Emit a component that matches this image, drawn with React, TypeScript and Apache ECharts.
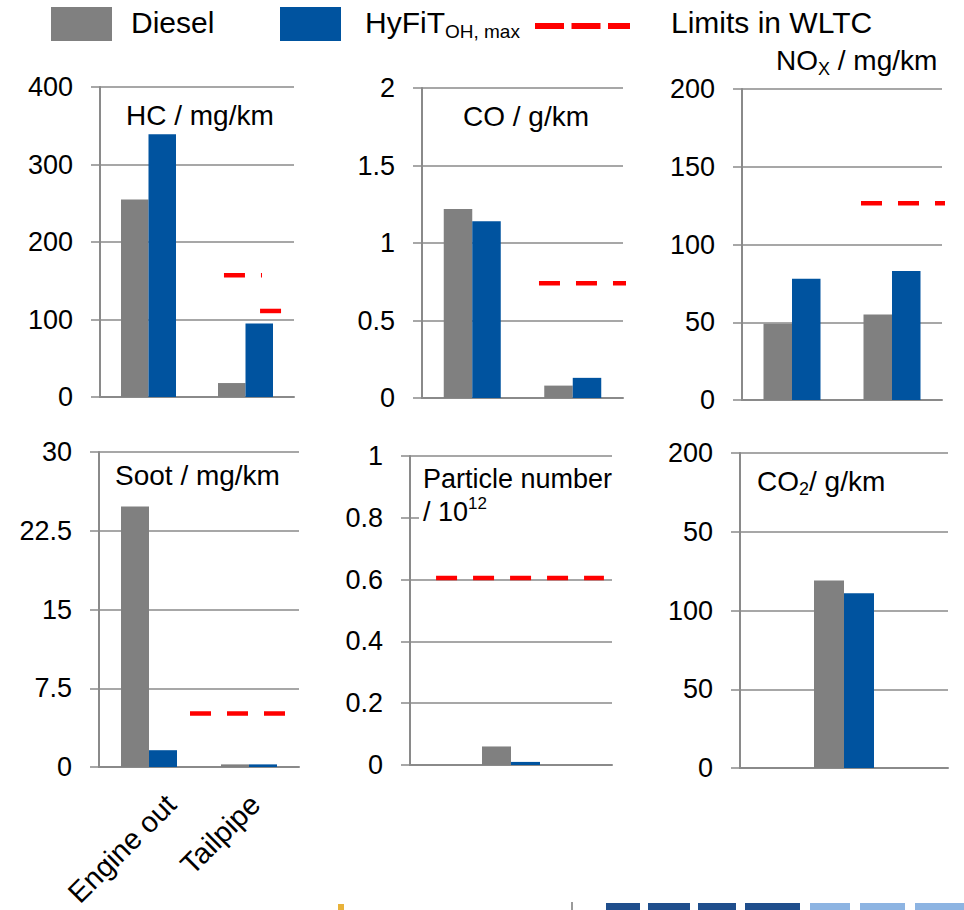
import React, { useEffect, useRef } from 'react';
import * as echarts from 'echarts';

// ---------- data ----------
const categories = ['Engine out', 'Tailpipe'];
const singleCategory = ['Total'];

const hcDiesel = [255, 18];
const hcHyfit = [339, 95];
const coDiesel = [1.22, 0.08];
const coHyfit = [1.14, 0.13];
const noxDiesel = [49, 55];
const noxHyfit = [78, 83];
const sootDiesel = [24.8, 0.25];
const sootHyfit = [1.6, 0.25];
const pnDiesel = [0.06];
const pnHyfit = [0.01];
const co2Diesel = [119];
const co2Hyfit = [111];

// WLTC limit values per panel
const hcLimits = [157, 111];
const coLimits = [0.74];
const noxLimits = [126.6];
const sootLimits = [5.1];
const pnLimits = [0.605];
const co2Limits: number[] = [];

// horizontal extent of each limit segment (fraction of panel width)
const hcLimitSpans = [[0.639, 0.835], [0.825, 1.015]];
const coLimitSpans = [[0.582, 1.055]];
const noxLimitSpans = [[0.595, 1.065]];
const sootLimitSpans = [[0.455, 0.93]];
const pnLimitSpans = [[0.129, 0.96]];
const co2LimitSpans: number[][] = [];

// tick values and labels
const hcTicks = [0, 100, 200, 300, 400];
const hcTickLabels = ['0', '100', '200', '300', '400'];
const coTicks = [0, 0.5, 1, 1.5, 2];
const coTickLabels = ['0', '0.5', '1', '1.5', '2'];
const noxTicks = [0, 50, 100, 150, 200];
const noxTickLabels = ['0', '50', '100', '150', '200'];
const sootTicks = [0, 7.5, 15, 22.5, 30];
const sootTickLabels = ['0', '7.5', '15', '22.5', '30'];
const pnTicks = [0, 0.2, 0.4, 0.6, 0.8, 1];
const pnTickLabels = ['0', '0.2', '0.4', '0.6', '0.8', '1'];
const co2Ticks = [0, 50, 100, 150, 200];
const co2TickLabels = ['0', '50', '100', '50', '200'];

const seriesNames = ['Diesel', 'HyFiT OH, max', 'Limits in WLTC'];

// ---------- styles ----------
const FONT = '"Liberation Sans", Arial, Helvetica, sans-serif';
const GRAY = '#808080';
const BLUE = '#00539F';
const RED = '#FF0000';
const AXIS = '#8a8a8a';

const panels = [
  { cats: categories, diesel: hcDiesel, hyfit: hcHyfit, ticks: hcTicks, labels: hcTickLabels, limits: hcLimits, spans: hcLimitSpans, grid: { left: 100, top: 87, width: 194, height: 310 }, barWidth: 27.5 },
  { cats: categories, diesel: coDiesel, hyfit: coHyfit, ticks: coTicks, labels: coTickLabels, limits: coLimits, spans: coLimitSpans, grid: { left: 422, top: 88, width: 201, height: 310 }, barWidth: 28.5 },
  { cats: categories, diesel: noxDiesel, hyfit: noxHyfit, ticks: noxTicks, labels: noxTickLabels, limits: noxLimits, spans: noxLimitSpans, grid: { left: 742, top: 89, width: 200, height: 311 }, barWidth: 28.5 },
  { cats: categories, diesel: sootDiesel, hyfit: sootHyfit, ticks: sootTicks, labels: sootTickLabels, limits: sootLimits, spans: sootLimitSpans, grid: { left: 99, top: 452, width: 200, height: 315 }, barWidth: 28 },
  { cats: singleCategory, diesel: pnDiesel, hyfit: pnHyfit, ticks: pnTicks, labels: pnTickLabels, limits: pnLimits, spans: pnLimitSpans, grid: { left: 410, top: 456, width: 202, height: 309 }, barWidth: 29 },
  { cats: singleCategory, diesel: co2Diesel, hyfit: co2Hyfit, ticks: co2Ticks, labels: co2TickLabels, limits: co2Limits, spans: co2LimitSpans, grid: { left: 740, top: 453, width: 208, height: 315 }, barWidth: 30 },
];

function buildOption() {
  const grid: any[] = panels.map((p) => ({ ...p.grid, containLabel: false }));
  // extra grid carrying only the rotated category labels under the soot panel
  grid.push({ left: 129, top: 452, width: 168, height: 315, containLabel: false });

  const xAxis: any[] = [];
  const yAxis: any[] = [];
  const series: any[] = [];

  panels.forEach((p, i) => {
    xAxis.push({
      type: 'category', gridIndex: i, data: p.cats,
      axisLine: { show: true, lineStyle: { color: AXIS, width: 2 } },
      axisTick: { show: false }, axisLabel: { show: false }, splitLine: { show: false },
    });
    xAxis.push({ type: 'value', gridIndex: i, min: 0, max: 1, show: false });
    const min = p.ticks[0];
    const max = p.ticks[p.ticks.length - 1];
    const interval = p.ticks[1] - p.ticks[0];
    yAxis.push({
      type: 'value', gridIndex: i, min, max, interval,
      axisLine: { show: true, lineStyle: { color: AXIS, width: 2 } },
      axisTick: { show: true, length: 9, lineStyle: { color: AXIS, width: 1.5 } },
      splitLine: { show: true, lineStyle: { color: AXIS, width: 1.5 } },
      axisLabel: {
        margin: 27, fontSize: 27, color: '#000', fontFamily: FONT,
        formatter: (v: number) => p.labels[Math.round((v - min) / interval)] ?? '',
      },
    });
    series.push({
      type: 'bar', name: seriesNames[0], xAxisIndex: 2 * i, yAxisIndex: i, data: p.diesel,
      barWidth: p.barWidth, barGap: '0%', itemStyle: { color: GRAY }, silent: true,
    });
    series.push({
      type: 'bar', name: seriesNames[1], xAxisIndex: 2 * i, yAxisIndex: i, data: p.hyfit,
      barWidth: p.barWidth, barGap: '0%', itemStyle: { color: BLUE }, silent: true,
    });
    p.limits.forEach((lv, k) => {
      series.push({
        type: 'line', name: seriesNames[2], xAxisIndex: 2 * i + 1, yAxisIndex: i,
        data: [[p.spans[k][0], lv], [p.spans[k][1], lv]],
        symbol: 'none', clip: false, silent: true, z: 5,
        lineStyle: { color: RED, width: 4.5, type: [21, 16], cap: 'butt' },
      });
    });
  });

  xAxis.push({
    type: 'category', gridIndex: 6, data: categories,
    axisLine: { show: false }, axisTick: { show: false }, splitLine: { show: false },
    axisLabel: { rotate: 45, margin: 36, fontSize: 29, color: '#000', fontFamily: FONT, interval: 0, hideOverlap: false },
  });
  yAxis.push({ type: 'value', gridIndex: 6, min: 0, max: 1, show: false });

  const txt = (x: number, y: number, text: string, size: number, rich?: any, extra?: any) => ({
    type: 'text', x, y, z: 100,
    style: { text, fontSize: size, fontFamily: FONT, fill: '#000', verticalAlign: 'middle', align: 'left', rich, ...(extra || {}) },
  });

  const subRich = (size: number, lh: number, subSize: number, subLh: number) => ({
    n: { fontSize: size, lineHeight: lh, fontFamily: FONT, fill: '#000' },
    s: { fontSize: subSize, lineHeight: subLh, fontFamily: FONT, fill: '#000', verticalAlign: 'bottom' },
  });

  const graphic: any[] = [
    // legend
    { type: 'rect', z: 100, shape: { x: 51, y: 7, width: 61, height: 34 }, style: { fill: GRAY } },
    txt(131, 22.6, 'Diesel', 30),
    { type: 'rect', z: 100, shape: { x: 280, y: 7, width: 61, height: 34 }, style: { fill: BLUE } },
    txt(365, 22.6, '{n|HyFiT}{s|OH, max}', 30, subRich(30, 36, 19, 14)),
    { type: 'line', z: 100, shape: { x1: 535, y1: 26, x2: 630, y2: 26 }, style: { stroke: RED, lineWidth: 6, lineDash: [29, 7.5] } },
    txt(671, 22.6, 'Limits in WLTC', 30),
    // panel titles
    txt(126, 115.5, 'HC / mg/km', 28),
    txt(463, 116, 'CO / g/km', 28),
    txt(776, 60.5, '{n|NO}{s|X}{n| / mg/km}', 28, subRich(28, 34, 18, 18)),
    txt(115, 475, 'Soot / mg/km', 28),
    { type: 'rect', z: 99, shape: { x: 419, y: 461, width: 196, height: 62 }, style: { fill: '#fff' } },
    {
      type: 'text', x: 423, y: 462, z: 100,
      style: {
        text: '{n|Particle number}\n{n|/ 10}{p|12}', fontFamily: FONT, fill: '#000', verticalAlign: 'top', align: 'left',
        rich: {
          n: { fontSize: 27, lineHeight: 33, fontFamily: FONT, fill: '#000' },
          p: { fontSize: 17, lineHeight: 26, fontFamily: FONT, fill: '#000', verticalAlign: 'top' },
        },
      },
    },
    txt(757, 481, '{n|CO}{s|2}{n|/ g/km}', 28, subRich(28, 34, 18, 18)),
    // cropped logo strip at the bottom
    { type: 'rect', z: 1, shape: { x: 338, y: 904, width: 6, height: 6 }, style: { fill: '#e8b23a' } },
    { type: 'rect', z: 1, shape: { x: 571, y: 902, width: 2, height: 8 }, style: { fill: '#9a9a9a' } },
    { type: 'rect', z: 1, shape: { x: 606, y: 903, width: 34, height: 7 }, style: { fill: '#1f4e8c' } },
    { type: 'rect', z: 1, shape: { x: 648, y: 903, width: 42, height: 7 }, style: { fill: '#1f4e8c' } },
    { type: 'rect', z: 1, shape: { x: 698, y: 903, width: 38, height: 7 }, style: { fill: '#1f4e8c' } },
    { type: 'rect', z: 1, shape: { x: 745, y: 903, width: 55, height: 7 }, style: { fill: '#1f4e8c' } },
    { type: 'rect', z: 1, shape: { x: 810, y: 903, width: 40, height: 7 }, style: { fill: '#8db4e2' } },
    { type: 'rect', z: 1, shape: { x: 860, y: 903, width: 45, height: 7 }, style: { fill: '#8db4e2' } },
    { type: 'rect', z: 1, shape: { x: 915, y: 903, width: 49, height: 7 }, style: { fill: '#8db4e2' } },
  ];

  return {
    animation: false,
    backgroundColor: '#ffffff',
    textStyle: { fontFamily: FONT },
    grid,
    xAxis,
    yAxis,
    series,
    graphic,
  };
}

export default function App() {
  const ref = useRef<HTMLDivElement>(null);
  useEffect(() => {
    if (!ref.current) return;
    const chart = echarts.init(ref.current, undefined, { renderer: 'svg' });
    chart.setOption(buildOption() as any);
    return () => chart.dispose();
  }, []);
  return <div ref={ref} style={{ position: 'fixed', left: 0, top: 0, width: 964, height: 910 }} />;
}
